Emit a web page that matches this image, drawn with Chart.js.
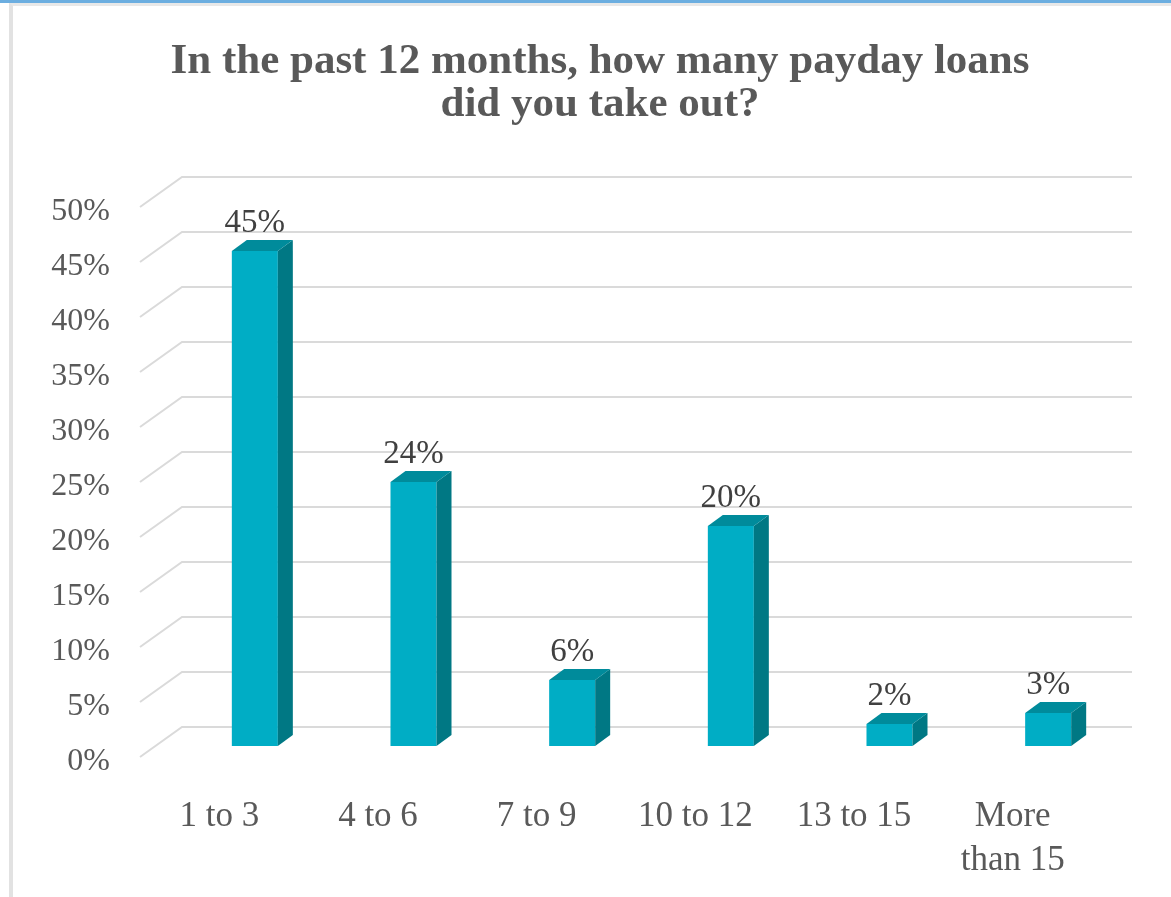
<!DOCTYPE html>
<html>
<head>
<meta charset="utf-8">
<title>Payday loans</title>
<script src="https://cdn.jsdelivr.net/npm/chart.js@4.4.1/dist/chart.umd.min.js"></script>
<style>
html, body { margin: 0; padding: 0; background: #fff; }
#wrap { position: relative; width: 1171px; height: 897px; overflow: hidden; }
#topbar { position: absolute; left: 0; top: 0; width: 1171px; height: 3px; background: #6caee0; }
#frame { position: absolute; left: 9px; top: 3px; width: 1170px; height: 900px;
	border-left: 4px solid #e2e2e2; border-top: 3px solid #e8e8e8; }
canvas { position: absolute; left: 0; top: 0; }
</style>
</head>
<body>
<div id="wrap">
	<div id="topbar"></div>
	<div id="frame"></div>
	<canvas id="chart-area" width="1171" height="897"></canvas>
</div>
<script>
// data
var categories = [ '1 to 3', '4 to 6', '7 to 9', '10 to 12', '13 to 15', [ 'More', 'than 15' ] ];
var percents = [ 45, 24, 6, 20, 2, 3 ];
var valueLabels = [ '45%', '24%', '6%', '20%', '2%', '3%' ];
var titleLines = [ 'In the past 12 months, how many payday loans', 'did you take out?' ];

var colors = {
	front : '#00adc5',
	side : '#007884',
	top : '#008b9b',
	grid : '#dadada',
	text : '#595959',
	label : '#404040'
};

// fake 3d: front edge of floor -> back wall
var wallDx = 42, wallDy = 30;
// bar front face sits a bit behind the front edge
var faceDx = 35.5, faceDy = 11;
var barDx = 15, barDy = 11;

var wallPlugin = {
	id : 'wall3d',
	beforeDatasetsDraw : function(chart) {
		var ctx = chart.ctx, area = chart.chartArea, y = chart.scales.y;
		ctx.save();
		ctx.strokeStyle = colors.grid;
		ctx.lineWidth = 2;
		y.ticks.forEach(function(t) {
			var py = y.getPixelForValue(t.value);
			ctx.beginPath();
			ctx.moveTo(area.left, py);
			ctx.lineTo(area.left + wallDx, py - wallDy);
			ctx.lineTo(area.right + 40, py - wallDy);
			ctx.stroke();
		});
		ctx.restore();
	},
	afterDatasetsDraw : function(chart) {
		var ctx = chart.ctx;
		var meta = chart.getDatasetMeta(0);
		ctx.save();
		meta.data.forEach(function(bar, i) {
			var l = bar.x - bar.width / 2 + faceDx;
			var r = l + bar.width;
			var top = bar.y - faceDy, bot = bar.base - faceDy;

			ctx.fillStyle = colors.front;
			ctx.fillRect(l, top, bar.width, bot - top);

			ctx.fillStyle = colors.side;
			ctx.beginPath();
			ctx.moveTo(r, top);
			ctx.lineTo(r + barDx, top - barDy);
			ctx.lineTo(r + barDx, bot - barDy);
			ctx.lineTo(r, bot);
			ctx.closePath();
			ctx.fill();

			ctx.fillStyle = colors.top;
			ctx.beginPath();
			ctx.moveTo(l, top);
			ctx.lineTo(l + barDx, top - barDy);
			ctx.lineTo(r + barDx, top - barDy);
			ctx.lineTo(r, top);
			ctx.closePath();
			ctx.fill();

			ctx.fillStyle = colors.label;
			ctx.font = '33px "Liberation Serif"';
			ctx.textAlign = 'center';
			ctx.textBaseline = 'middle';
			ctx.fillText(valueLabels[i], (l + r) / 2, top - 28);
		});
		ctx.restore();
	}
};

window.onload = function() {
	var ctx = document.getElementById('chart-area').getContext('2d');
	window.myBar = new Chart(ctx, {
		type : 'bar',
		data : {
			labels : categories,
			datasets : [ {
				data : percents,
				backgroundColor : 'rgba(0,0,0,0)',
				barPercentage : 0.29,
				categoryPercentage : 1
			} ]
		},
		options : {
			responsive : false,
			animation : false,
			layout : {
				// left/right chosen so the title centres near x=600
				padding : { left : 40, right : 11, top : 0, bottom : 0 }
			},
			plugins : {
				legend : { display : false },
				tooltip : { enabled : false },
				title : {
					display : true,
					text : titleLines,
					color : colors.text,
					font : { family : 'Liberation Serif', size : 43, weight : 'bold', lineHeight : 1.0 },
					padding : { top : 40.5, bottom : 80.5 }
				}
			},
			scales : {
				x : {
					grid : { display : false, drawTicks : false },
					border : { display : false },
					ticks : {
						color : colors.text,
						font : { family : 'Liberation Serif', size : 35, lineHeight : 1.28 },
						padding : 37,
						maxRotation : 0,
						autoSkip : false
					},
					afterFit : function(scale) { scale.height = 140; }
				},
				y : {
					min : 0,
					max : 50,
					grid : { display : false, drawTicks : false },
					border : { display : false },
					ticks : {
						stepSize : 5,
						color : colors.text,
						font : { family : 'Liberation Serif', size : 32 },
						padding : 30,
						labelOffset : 5,
						callback : function(v) { return v + '%'; }
					},
					afterFit : function(scale) { scale.width = 100; }
				},
				// empty spacer on the right, room for the back wall
				yRight : {
					type : 'linear',
					position : 'right',
					display : true,
					grid : { display : false, drawTicks : false },
					border : { display : false },
					ticks : { display : false },
					afterFit : function(scale) { scale.width = 68; }
				}
			}
		},
		plugins : [ wallPlugin ]
	});
};
</script>
</body>
</html>
